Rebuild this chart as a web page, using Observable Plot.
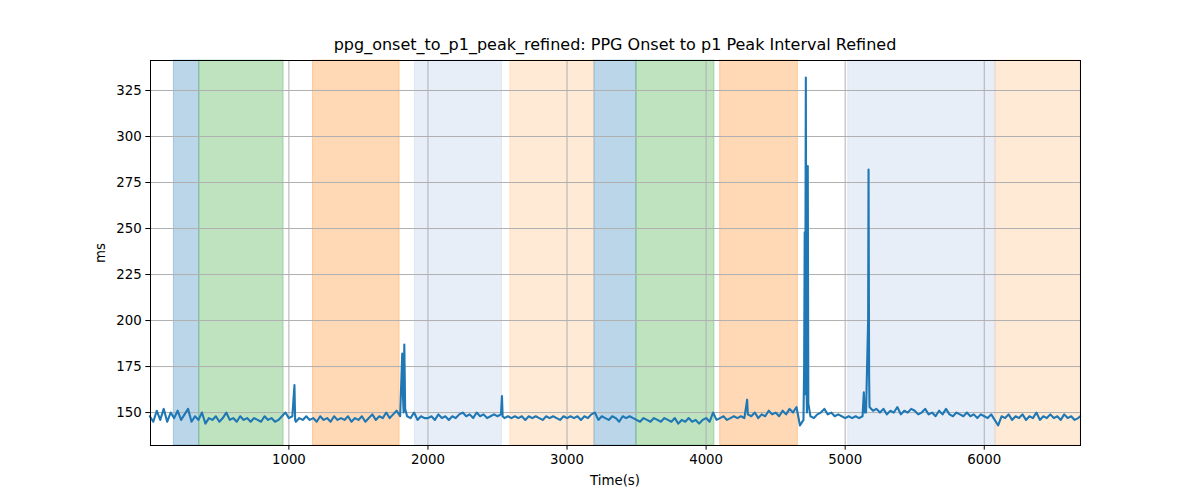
<!DOCTYPE html>
<html>
<head>
<meta charset="utf-8">
<script src="https://cdn.jsdelivr.net/npm/d3@7"></script>
<script src="https://cdn.jsdelivr.net/npm/@observablehq/plot@0.6"></script>
<style>
  html, body { margin: 0; padding: 0; background: white; }
  #wrap { position: relative; width: 1200px; height: 500px; font-family: "DejaVu Sans", sans-serif; }
  #title { position: absolute; left: 150px; width: 930px; top: 35px; text-align: center; font-size: 16px; line-height: 20px; color: black; }
  #xlabel { position: absolute; left: 150px; width: 930px; top: 472px; text-align: center; font-size: 13.33px; line-height: 18px; }
  #ylabel { position: absolute; left: 101px; top: 253px; transform: translate(-50%, -50%) rotate(-90deg); font-size: 13.33px; line-height: 18px; white-space: nowrap; }
  #chart { position: absolute; left: 0; top: 0; }
</style>
</head>
<body>
<div id="wrap">
  <div id="chart"></div>
  <div id="title">ppg_onset_to_p1_peak_refined: PPG Onset to p1 Peak Interval Refined</div>
  <div id="xlabel">Time(s)</div>
  <div id="ylabel">ms</div>
</div>
<script>
// Shaded condition spans
const spanStarts = [173, 356, 1173, 1906, 2592, 3197, 3499, 4101, 5022, 6081];
const spanEnds   = [356, 962, 1796, 2532, 3197, 3499, 4060, 4660, 6081, 6692];
const spanColors = ["#1f77b4", "#2ca02c", "#ff7f0e", "#aec7e8", "#ffbb78",
                    "#1f77b4", "#2ca02c", "#ff7f0e", "#aec7e8", "#ffbb78"];

// Base series (time in s, value in ms)
const baseTimes = [
  0,25,50,75,100,125,150,175,200,225,
  250,275,300,325,350,375,400,425,450,475,
  500,525,550,575,600,625,650,675,700,725,
  750,775,800,825,850,875,900,925,950,975,
  1000,1025,1050,1075,1100,1125,1150,1175,1200,1225,
  1250,1275,1300,1325,1350,1375,1400,1425,1450,1475,
  1500,1525,1550,1575,1600,1625,1650,1675,1700,1725,
  1750,1775,1800,1825,1850,1875,1900,1925,1950,1975,
  2000,2025,2050,2075,2100,2125,2150,2175,2200,2225,
  2250,2275,2300,2325,2350,2375,2400,2425,2450,2475,
  2500,2525,2550,2575,2600,2625,2650,2675,2700,2725,
  2750,2775,2800,2825,2850,2875,2900,2925,2950,2975,
  3000,3025,3050,3075,3100,3125,3150,3175,3200,3225,
  3250,3275,3300,3325,3350,3375,3400,3425,3450,3475,
  3500,3525,3550,3575,3600,3625,3650,3675,3700,3725,
  3750,3775,3800,3825,3850,3875,3900,3925,3950,3975,
  4000,4025,4050,4075,4100,4125,4150,4175,4200,4225,
  4250,4275,4300,4325,4350,4375,4400,4425,4450,4475,
  4500,4525,4550,4575,4600,4625,4650,4675,4700,4725,
  4750,4775,4800,4825,4850,4875,4900,4925,4950,4975,
  5000,5025,5050,5075,5100,5125,5150,5175,5200,5225,
  5250,5275,5300,5325,5350,5375,5400,5425,5450,5475,
  5500,5525,5550,5575,5600,5625,5650,5675,5700,5725,
  5750,5775,5800,5825,5850,5875,5900,5925,5950,5975,
  6000,6025,6050,6075,6100,6125,6150,6175,6200,6225,
  6250,6275,6300,6325,6350,6375,6400,6425,6450,6475,
  6500,6525,6550,6575,6600,6625,6650,6675,6690
];
const baseValues = [
  148,145,151,146,152,145,150,147,151,146,
  149,152,145,148,146,150,144,147,146,148,
  145,147,150,146,147,145,148,146,147,145,
  147,146,145,148,146,147,145,146,148,150,
  147,148,145,147,146,148,146,147,145,148,
  146,147,145,148,146,147,146,148,145,147,
  146,148,145,147,149,146,148,147,150,147,
  149,151,148,150,148,147,150,146,148,147,
  147,148,146,149,147,148,146,148,147,149,
  150,148,149,147,150,148,149,147,148,149,
  148,149,147,148,147,148,147,148,146,148,
  147,148,147,146,148,147,148,147,146,148,
  147,148,147,148,146,148,147,149,150,146,
  148,147,146,148,147,145,148,147,148,147,
  146,145,147,146,145,147,146,145,147,146,
  145,147,144,146,145,147,145,146,144,146,
  147,145,150,146,147,148,146,147,148,147,
  148,147,149,148,150,147,149,148,151,149,
  150,148,151,149,152,150,153,143,146,150,
  148,147,149,150,152,149,150,148,149,148,
  147,148,147,148,147,148,150,153,151,152,
  150,152,149,151,150,153,149,151,150,152,
  151,149,150,152,149,150,148,151,149,152,
  149,148,150,149,148,150,148,149,147,149,
  148,147,149,146,143,148,147,149,146,148,
  147,149,146,148,147,150,146,148,147,149,
  147,148,146,149,147,148,146,147,148
];

// Short spikes
const spikeTimes  = [1040, 1045, 1815, 1820, 1830, 1836, 2532, 2537, 4295, 4300,
                     4705, 4709, 4712, 4717, 4721, 4731, 4735, 5134, 5140, 5165, 5168, 5172];
const spikeValues = [165, 146, 182, 160, 187, 152, 159, 148, 157, 149,
                     175, 248, 160, 332, 170, 284, 155, 161, 150, 200, 282, 170];

const xTicks = [1000, 2000, 3000, 4000, 5000, 6000];
const yTicks = [150, 175, 200, 225, 250, 275, 300, 325];

const series = baseTimes.map((t, i) => ({t, v: baseValues[i]}))
  .concat(spikeTimes.map((t, i) => ({t, v: spikeValues[i]})))
  .sort((a, b) => a.t - b.t);
const spans = spanStarts.map((s, i) => ({x1: s, x2: spanEnds[i], c: spanColors[i]}));

const chart = Plot.plot({
  width: 1200,
  height: 500,
  marginLeft: 150,
  marginRight: 120,
  marginTop: 60,
  marginBottom: 55,
  style: {fontFamily: "DejaVu Sans, sans-serif", fontSize: "13.33px", background: "white", color: "black"},
  x: {domain: [5, 6692]},
  y: {domain: [132.1, 341.3]},
  color: {type: "identity"},
  marks: [
    Plot.rect(spans, {x1: "x1", x2: "x2", fill: "c", fillOpacity: 0.3, stroke: "c", strokeOpacity: 0.3, strokeWidth: 1}),
    Plot.gridX(xTicks, {stroke: "#b0b0b0", strokeOpacity: 1, strokeWidth: 1}),
    Plot.gridY(yTicks, {stroke: "#b0b0b0", strokeOpacity: 1, strokeWidth: 1}),
    Plot.line(series, {x: "t", y: "v", stroke: "#1f77b4", strokeWidth: 2.1, strokeLinejoin: "round"}),
    Plot.frame({stroke: "black", strokeWidth: 1}),
    Plot.axisX(xTicks, {tickSize: 4.7, tickPadding: 4, label: null, tickFormat: d => String(d)}),
    Plot.axisY(yTicks, {tickSize: 4.7, tickPadding: 4, label: null, tickFormat: d => String(d)})
  ]
});
document.getElementById("chart").appendChild(chart);
</script>
</body>
</html>
